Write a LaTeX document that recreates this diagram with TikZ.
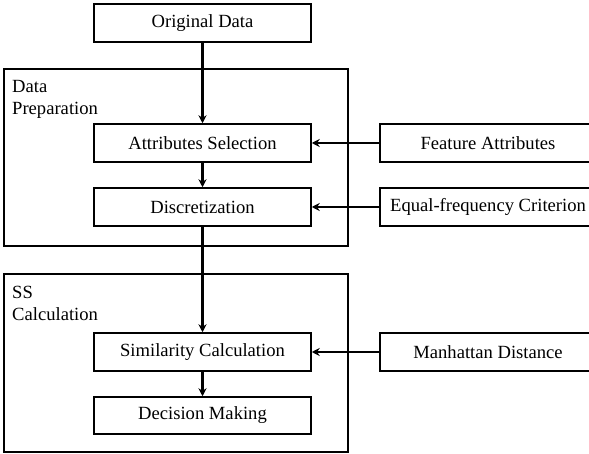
\documentclass[tikz,border=0pt]{standalone}
\usepackage{fontspec}
\setmainfont{Liberation Serif}
\usetikzlibrary{arrows.meta}
\begin{document}
\begin{tikzpicture}[x=1pt,y=-1pt,
  box/.style={draw, line width=1.5pt, minimum height=38pt, inner sep=0pt, font=\fontsize{18.6}{22}\selectfont},
  leftbox/.style={box, minimum width=217pt},
  rightbox/.style={box, minimum width=216pt},
  group/.style={draw, line width=1.5pt, inner sep=0pt},
  glabel/.style={anchor=north west, inner sep=0pt, align=left, font=\fontsize{18.6}{22}\selectfont},
  arr/.style={line width=2.2pt, -{Stealth[length=8pt,width=8pt]}}]
\useasboundingbox (0,0) rectangle (589,454);
\node[group, minimum width=344pt, minimum height=177pt] (dp) at (176,157.5) {};
\node[group, minimum width=344pt, minimum height=178pt] (ss) at (176,363) {};
\node[glabel] (dplab) at (12,80) {Data\\Preparation};
\node[glabel] (sslab) at (12,286) {SS\\Calculation};
\node[leftbox] (orig) at (202.5,23) {Original Data};
\node[leftbox] (attr) at (202.5,143) {Attributes Selection};
\node[leftbox] (disc) at (202.5,207) {Discretization};
\node[leftbox] (sim) at (202.5,352) {Similarity Calculation};
\node[leftbox, minimum height=37pt] (dec) at (202.5,415.5) {Decision Making};
\node[rightbox] (feat) at (488,143) {Feature Attributes};
\node[rightbox] (eqf) at (488,207) {Equal-frequency Criterion};
\node[rightbox] (man) at (488,352) {Manhattan Distance};
\draw[arr] (orig) -- (attr);
\draw[arr] (attr) -- (disc);
\draw[arr] (disc) -- (sim);
\draw[arr] (sim) -- (dec);
\draw[arr] (feat) -- (attr);
\draw[arr] (eqf) -- (disc);
\draw[arr] (man) -- (sim);
\end{tikzpicture}
\end{document}
